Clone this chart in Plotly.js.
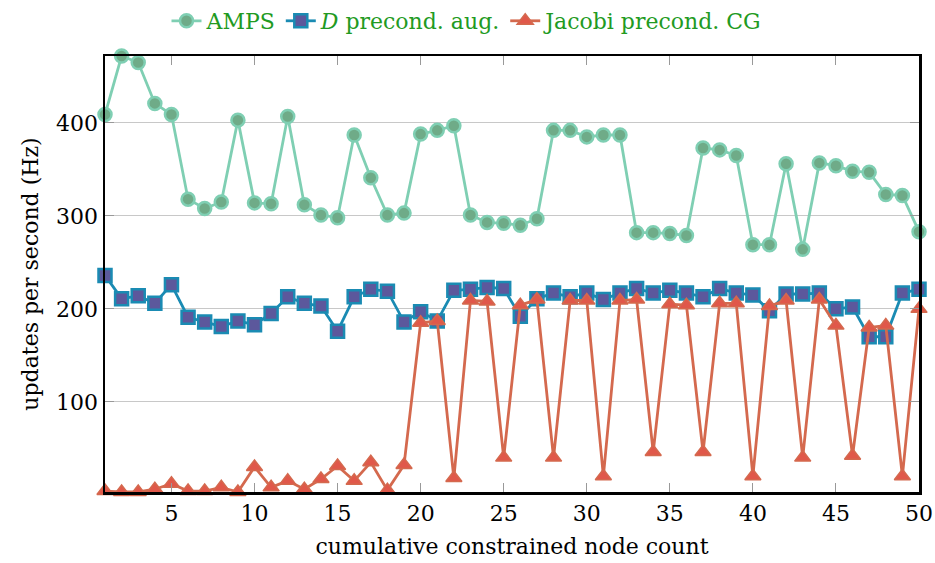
<!DOCTYPE html>
<html>
<head>
<meta charset="utf-8">
<script src="https://cdn.plot.ly/plotly-3.0.1.min.js"></script>
<style>html,body{margin:0;padding:0;background:#fff;}#chart{width:935px;height:563px;}</style>
</head>
<body>
<div id="chart"></div>
<script>
const nodeCount = Array.from({length: 50}, (_, i) => i + 1);

const amps = [409, 472, 465, 421, 409, 318, 308, 315, 403, 314,
              313, 407, 312, 301, 298, 387, 341, 301, 303, 388,
              392, 397, 301, 293, 292, 290, 297, 392, 392, 385,
              387, 387, 282, 282, 281, 279, 373, 371, 365, 269,
              269, 356, 264, 357, 354, 348, 347, 323, 322, 283];

const dPrecond = [236, 211, 214, 206, 226, 191, 186, 181, 187, 183,
                  195, 213, 206, 203, 176, 213, 221, 219, 186, 197,
                  187, 220, 221, 223, 222, 192, 211, 217, 213, 217,
                  210, 217, 222, 217, 220, 217, 213, 222, 217, 215,
                  198, 216, 216, 217, 200, 202, 170, 170, 217, 221];

const jacobi = [4, 3, 3, 6, 12, 4, 4, 8, 3, 30,
                8, 15, 6, 17, 31, 15, 35, 5, 32, 185,
                187, 18, 209, 208, 40, 204, 210, 40, 209, 209,
                20, 209, 210, 46, 205, 204, 46, 206, 206, 20,
                203, 209, 40, 210, 182, 42, 180, 182, 20, 200];

const seriesNames = ['AMPS', '<i>D</i> precond. aug.', 'Jacobi precond. CG'];
const xTicks = [5, 10, 15, 20, 25, 30, 35, 40, 45, 50];
const yTicks = [100, 200, 300, 400];

const allY = amps.concat(dPrecond, jacobi);
const yMin = Math.min(...allY), yMax = Math.max(...allY);

const traces = [
  {x: nodeCount, y: amps, name: seriesNames[0], mode: 'lines+markers', cliponaxis: false,
   line: {color: '#7fcfb3', width: 2.8},
   marker: {symbol: 'circle', size: 13, color: '#6fab88', line: {color: '#7fcfb3', width: 2.5}}},
  {x: nodeCount, y: dPrecond, name: seriesNames[1], mode: 'lines+markers', cliponaxis: false,
   line: {color: '#1a8bb3', width: 2.8},
   marker: {symbol: 'square', size: 13, color: '#5c589c', line: {color: '#1a8bb3', width: 2.5}}},
  {x: nodeCount, y: jacobi, name: seriesNames[2], mode: 'lines+markers', cliponaxis: false,
   line: {color: '#d4694e', width: 2.8},
   marker: {symbol: 'triangle-up', size: 14, color: '#e0584a', line: {color: '#d4694e', width: 1.5}}}
];

const font = {family: '"DejaVu Serif", "Liberation Serif", serif', size: 22, color: '#000'};

const layout = {
  width: 935, height: 563,
  margin: {l: 105, r: 16, t: 56, b: 71},
  paper_bgcolor: '#fff', plot_bgcolor: '#fff',
  font: font,
  showlegend: true,
  legend: {orientation: 'h', x: 0.5, xref: 'container', xanchor: 'center', y: 1.0, yanchor: 'top', yref: 'container',
           font: {family: font.family, size: 22, color: '#229a22'}, tracegroupgap: 0},
  xaxis: {
    range: [1, 50], tickvals: xTicks, ticktext: xTicks.map(String),
    showgrid: false, zeroline: false,
    showline: true, linecolor: '#000', linewidth: 2.5, mirror: 'allticks',
    ticks: 'inside', ticklen: 9, tickcolor: '#999', tickwidth: 1,
    title: {text: 'cumulative constrained node count', font: font, standoff: 14},
    tickfont: font
  },
  yaxis: {
    range: [yMin, yMax], tickvals: yTicks, ticktext: yTicks.map(String),
    showgrid: true, gridcolor: '#c8c8c8', gridwidth: 1, zeroline: false,
    showline: true, linecolor: '#000', linewidth: 2.5, mirror: 'allticks',
    ticks: 'inside', ticklen: 9, tickcolor: '#999', tickwidth: 1,
    title: {text: 'updates per second (Hz)', font: font, standoff: 12},
    tickfont: font
  }
};

Plotly.newPlot('chart', traces, layout, {displayModeBar: false, staticPlot: true});
</script>
</body>
</html>
